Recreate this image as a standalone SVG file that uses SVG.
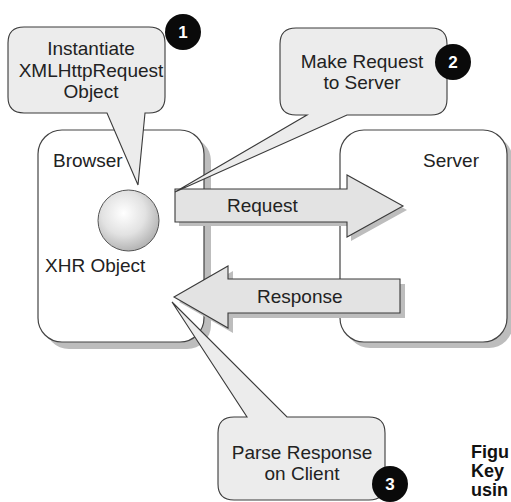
<svg xmlns="http://www.w3.org/2000/svg" width="511" height="502" viewBox="0 0 511 502">
  <style>
    .box { fill: #ffffff; stroke: #444444; stroke-width: 1.2; }
    .shadow { fill: #bdbdbd; }
    .arrow { fill: #e3e3e3; stroke: #3a3a3a; stroke-width: 1.1; }
    .callout { fill: #ececec; stroke: #3a3a3a; stroke-width: 1.1; }
    .label { font-family: "Liberation Sans", Arial, sans-serif; font-size: 19px; fill: #222222; }
    .mid { text-anchor: middle; }
    .badge { fill: #0a0a0a; }
    .badge-num { font-family: "Liberation Sans", Arial, sans-serif; font-size: 17px; font-weight: bold; fill: #ffffff; text-anchor: middle; }
    .caption { font-family: "Liberation Sans", Arial, sans-serif; font-size: 18px; font-weight: bold; fill: #111111; }
  </style>
  <defs>
    <radialGradient id="sphereShade" cx="0.42" cy="0.38" r="0.65">
      <stop offset="0" stop-color="#ffffff"/>
      <stop offset="0.55" stop-color="#e2e2e2"/>
      <stop offset="1" stop-color="#b0b0b0"/>
    </radialGradient>
  </defs>

  <rect width="511" height="502" fill="#ffffff"/>

  <!-- Browser -->
  <g id="browser">
    <rect class="shadow" x="45" y="137" width="166" height="212" rx="24"/>
    <rect class="box" x="38" y="130" width="166" height="212" rx="24"/>
    <text class="label" x="53" y="167">Browser</text>
  </g>

  <!-- Server -->
  <g id="server">
    <rect class="shadow" x="346" y="136" width="167" height="212" rx="24"/>
    <rect class="box" x="340" y="130" width="167" height="212" rx="24"/>
    <text class="label" x="423" y="167">Server</text>
  </g>

  <!-- XHR object -->
  <g id="xhr-object">
    <circle cx="128.5" cy="220.5" r="30.5" fill="url(#sphereShade)" stroke="#555555" stroke-width="1"/>
    <text class="label" x="45" y="272">XHR Object</text>
  </g>

  <!-- Connectors -->
  <g id="connectors">
    <g id="request">
      <path class="shadow" d="M179,193 H351 V179 L407,210 L351,241 V226 H179 Z"/>
      <path class="arrow" d="M175,189 H347 V175 L403,206 L347,237 V222 H175 Z"/>
      <text class="label" x="227" y="212">Request</text>
    </g>
    <g id="response">
      <path class="shadow" d="M179,302 L233,271 V284 H405 V318 H233 V333 Z"/>
      <path class="arrow" d="M174,297 L228,266 V279 H400 V313 H228 V328 Z"/>
      <text class="label" x="257" y="303">Response</text>
    </g>
  </g>

  <!-- Callout 1 -->
  <g id="callout-instantiate">
    <path class="callout" d="M24,27 H149 Q165,27 165,43 V97 Q165,113 149,113 H145 L138,185 L107,113 H24 Q8,113 8,97 V43 Q8,27 24,27 Z"/>
    <text class="label mid" x="91" y="55">Instantiate</text>
    <text class="label mid" x="91" y="77">XMLHttpRequest</text>
    <text class="label mid" x="91" y="98">Object</text>
    <circle class="badge" cx="183" cy="32" r="18"/>
    <text class="badge-num" x="183" y="38">1</text>
  </g>

  <!-- Callout 2 -->
  <g id="callout-request">
    <path class="callout" d="M296,28 H431 Q447,28 447,44 V99 Q447,115 431,115 H347 L175,192 L307,115 H296 Q280,115 280,99 V44 Q280,28 296,28 Z"/>
    <text class="label mid" x="362" y="68">Make Request</text>
    <text class="label mid" x="362" y="89">to Server</text>
    <circle class="badge" cx="453" cy="62" r="18"/>
    <text class="badge-num" x="453" y="68">2</text>
  </g>

  <!-- Callout 3 -->
  <g id="callout-parse">
    <path class="callout" d="M234,417 H247 L172,302 L287,417 H369 Q385,417 385,433 V484 Q385,500 369,500 H234 Q218,500 218,484 V433 Q218,417 234,417 Z"/>
    <text class="label mid" x="302" y="459">Parse Response</text>
    <text class="label mid" x="302" y="480">on Client</text>
    <circle class="badge" cx="390" cy="484" r="18"/>
    <text class="badge-num" x="390" y="490">3</text>
  </g>

  <!-- Caption -->
  <g id="caption">
    <text class="caption" x="471" y="458">Figu</text>
    <text class="caption" x="471" y="477">Key</text>
    <text class="caption" x="471" y="496">usin</text>
  </g>
</svg>
